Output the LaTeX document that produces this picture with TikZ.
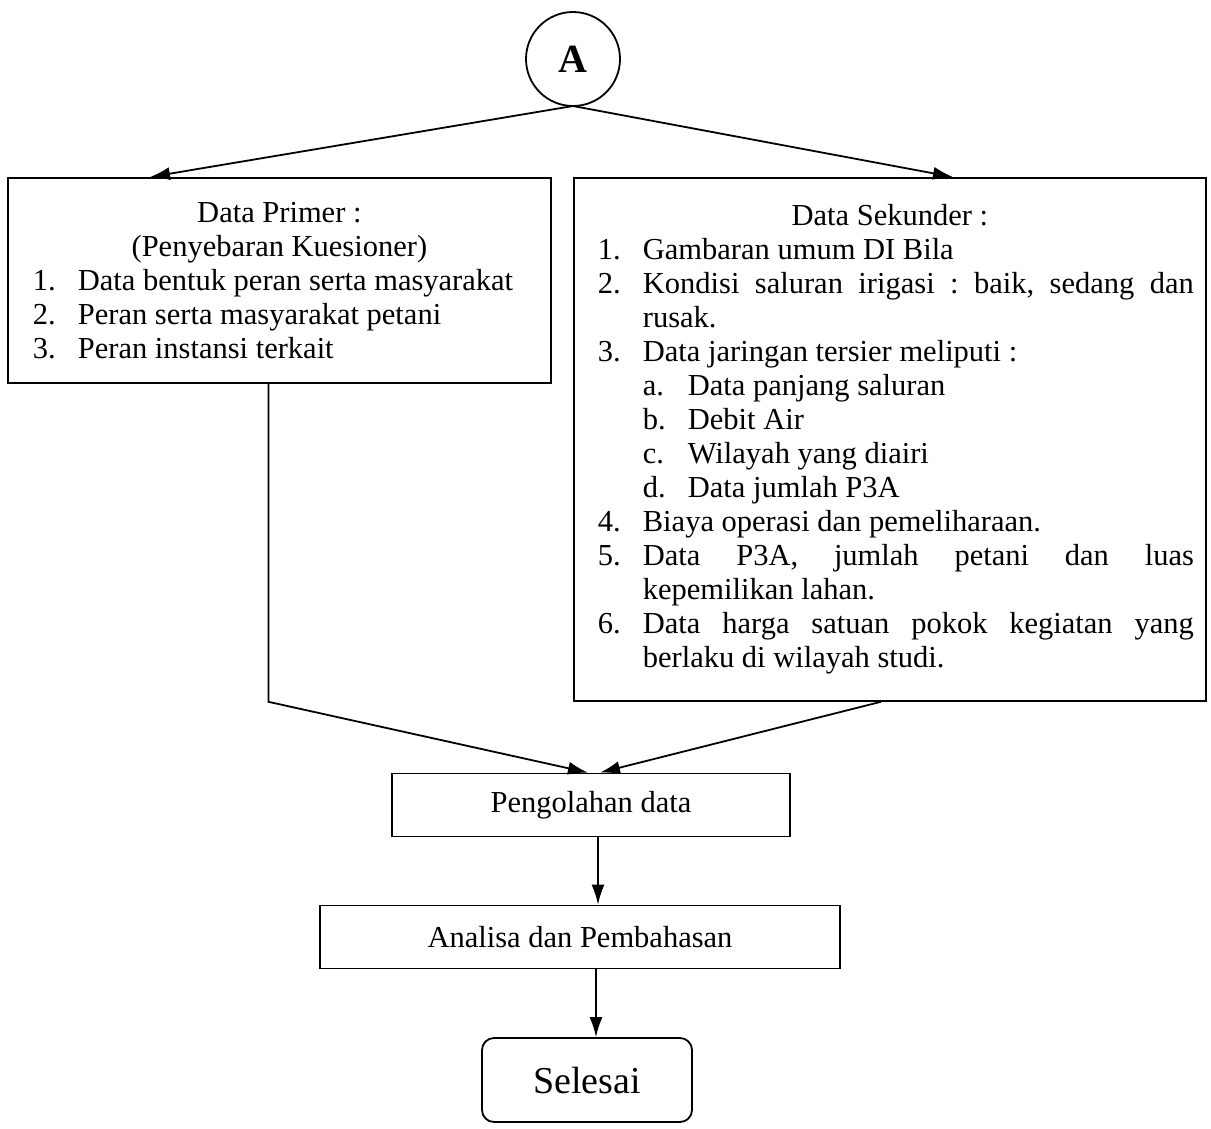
\documentclass[tikz,border=0pt]{standalone}
\usepackage{fontspec}
\setmainfont{Liberation Serif}
\usetikzlibrary{arrows.meta, positioning, calc}
\frenchspacing

\newlength{\numw}
\setlength{\numw}{45pt}
\newcommand{\numline}[2]{\par\noindent\hangindent=\numw\hangafter=1\makebox[\numw][l]{#1}#2}
\newcommand{\letterline}[2]{\par\noindent\hangindent=2\numw\hangafter=1\hspace*{\numw}\makebox[\numw][l]{#1}#2}

\begin{document}
\begin{tikzpicture}[
		x=1pt, y=-1pt,
		box/.style={draw, line width=1.8pt, inner sep=0pt, font=\fontsize{30.5}{34}\selectfont},
		listbox/.style={box, anchor=north west, align=justify, inner xsep=12pt},
		flow/.style={draw, line width=1.8pt, -{Latex[length=20pt, width=13pt]}},
		link/.style={draw, line width=1.8pt}
	]
	\useasboundingbox (0,0) rectangle (1211,1128);

	% Connector A
	\node[circle, draw, line width=1.8pt, minimum size=94pt, inner sep=0pt, font=\fontsize{40}{44}\selectfont\bfseries] (conA) at (573,59) {A};
	\coordinate (split) at (573,106);

	% Data Primer
	\node[listbox, text width=519pt, minimum height=205pt] (primer) at (7,177) {%
		\setlength{\leftskip}{13pt}%
		{\centering Data Primer :\par (Penyebaran Kuesioner)\par}
		\numline{1.}{Data bentuk peran serta masyarakat}
		\numline{2.}{Peran serta masyarakat petani}
		\numline{3.}{Peran instansi terkait}\par};

	% Data Sekunder
	\node[listbox, text width=608pt, minimum height=523pt] (sekunder) at (573,177) {%
		\setlength{\leftskip}{12pt}%
		{\centering Data Sekunder :\par}
		\numline{1.}{Gambaran umum DI Bila}
		\numline{2.}{Kondisi saluran irigasi : baik, sedang dan\linebreak rusak.}
		\numline{3.}{Data jaringan tersier meliputi :}
		\letterline{a.}{Data panjang saluran}
		\letterline{b.}{Debit Air}
		\letterline{c.}{Wilayah yang diairi}
		\letterline{d.}{Data jumlah P3A}
		\numline{4.}{Biaya operasi dan pemeliharaan.}
		\numline{5.}{Data P3A, jumlah petani dan luas\linebreak kepemilikan lahan.}
		\numline{6.}{Data harga satuan pokok kegiatan yang\linebreak berlaku di wilayah studi.}\par};

	% Processing steps
	\node[box, minimum width=398pt, minimum height=63pt] (olah) at (591,805) {Pengolahan data};
	\node[box, minimum width=520pt, minimum height=63pt] (analisa) at (580,937) {Analisa dan Pembahasan};
	\node[box, rounded corners=12pt, minimum width=210pt, minimum height=84pt, font=\fontsize{38}{42}\selectfont] (selesai) at (587,1080) {Selesai};

	% Connectors
	\draw[flow] (split) -- ([xshift=143pt]primer.north west);
	\draw[flow] (split) -- ([xshift=380pt]sekunder.north west);
	\draw[flow] ([xshift=-11pt]primer.south) -- ([xshift=-11pt]primer.south |- sekunder.south) -- ([xshift=-3pt]olah.north);
	\draw[flow] ([xshift=-9pt]sekunder.south) -- ([xshift=9pt]olah.north);
	\draw[flow] ([xshift=7pt]olah.south) -- ([xshift=7pt]olah.south |- analisa.north);
	\draw[flow] ([xshift=16pt]analisa.south) -- ([xshift=16pt]analisa.south |- selesai.north);
\end{tikzpicture}
\end{document}
